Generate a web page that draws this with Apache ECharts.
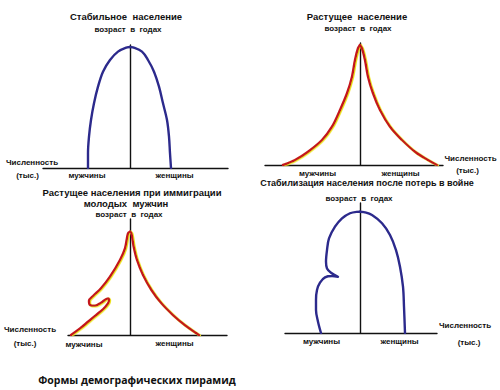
<!DOCTYPE html>
<html><head><meta charset="utf-8">
<script src="https://cdn.jsdelivr.net/npm/echarts@6/dist/echarts.min.js"></script>
<style>html,body{margin:0;padding:0;background:#fff}#c{width:500px;height:390px}</style>
</head><body><div id="c"></div>
<script>
// Panel 1: stable population (age 0..100, numbers in arbitrary thousands)
const stableAge   = [98.4, 98.1, 94.6, 87.8, 78.3, 66.1, 52.6, 39.0, 25.5, 12.0, 0];
const stableMen   = [0, -3, -12, -20, -27, -32, -36, -39, -41, -42, -42];
const stableWomen = [0, 3, 12, 18, 24, 29, 33, 37, 39, 40, 41];

// Panel 2: growing population
const growAge   = [98.4, 95.7, 86.1, 72.4, 58.8, 45.1, 31.4, 20.5, 10.9, 4.1, 0];
const growMen   = [0, -2, -5, -8, -13, -20, -28, -38, -52, -65, -77];
const growWomen = [0, 2, 5, 8, 13, 20, 30, 42, 55, 68, 77];

// Panel 3: growing population with immigration of young men
const immMenX     = [0, -2, -5, -10, -20, -29, -37, -41, -40, -35, -29, -22, -21, -22, -27, -34, -42, -50, -59];
const immMenAge   = [89, 87.6, 74.7, 64.7, 50.3, 40.3, 33.6, 29.6, 25.9, 25.3, 27.8, 31.6, 30.2, 27.3, 22.2, 17.2, 11.4, 5.7, 0];
const immWomenX   = [0, 1.4, 3.7, 7, 13, 21.4, 31.4, 43, 54.7, 66.4, 69];
const immWomenAge = [89, 87.7, 76.1, 64.7, 51.7, 38.8, 27.3, 17.2, 8.6, 1.5, 0];

// Panel 4: stabilisation after war losses
const warMenX     = [0, -3.5, -10, -18, -25, -31, -33, -34, -33, -29, -22, -28, -35, -40, -43, -44, -44, -42, -39];
const warMenAge   = [93.3, 93.2, 92.1, 88.2, 81.8, 72.8, 63.8, 54.8, 49.7, 46.4, 43.3, 43.8, 42.8, 38.7, 33.1, 25.4, 17.7, 8.7, 0];
const warWomenX   = [0, 4, 12, 22, 30, 36, 40, 43, 44, 45];
const warWomenAge = [93.3, 93.0, 90.8, 84.4, 75.4, 63.8, 51, 35.6, 20.2, 0];

// Texts
const panelTitles = ['Стабильное  население', 'Растущее  население', 'Растущее населения при иммиграции', 'Стабилизация населения после потерь в войне'];
const subTitle = 'молодых  мужчин';
const ageLabel = 'возраст  в  годах';
const countLabel = 'Численность';
const countUnit = '(тыс.)';
const menLabel = 'мужчины';
const womenLabel = 'женщины';
const mainTitle = 'Формы демографических пирамид';

const pairs = (xs, ys) => xs.map((v, i) => [v, ys[i]]);

const BLUE = '#2c2a8c', RED = '#c4161c', YEL = '#ece21c';
const grids = [
  {left: 43, right: 272, top: 45, bottom: 222},
  {left: 265, right: 57, top: 43, bottom: 225},
  {left: 68, right: 273, top: 219, bottom: 55},
  {left: 285, right: 63, top: 203, bottom: 57}
];
const xr = [[-87, 98], [-95, 83], [-62, 97], [-75, 77]];

const axLine = {show: true, onZero: true, lineStyle: {color: '#111', width: 1.4}};
const xAxis = xr.map((r, i) => ({type: 'value', gridIndex: i, min: r[0], max: r[1],
  axisLine: axLine, axisTick: {show: false}, axisLabel: {show: false}, splitLine: {show: false}}));
const yAxis = xr.map((r, i) => ({type: 'value', gridIndex: i, min: 0, max: 100,
  axisLine: axLine, axisTick: {show: false}, axisLabel: {show: false}, splitLine: {show: false}}));

function ser(i, data, color, shadow) {
  return {type: 'line', xAxisIndex: i, yAxisIndex: i, data: data, showSymbol: false, symbol: 'none',
    smooth: 0.35, z: 3,
    lineStyle: Object.assign({color: color, width: 2.4, cap: 'round', join: 'round'},
      shadow ? {shadowColor: shadow, shadowBlur: 0, shadowOffsetX: 1, shadowOffsetY: 0.6} : {})};
}
const series = [
  ser(0, pairs(stableMen, stableAge), BLUE),
  ser(0, pairs(stableWomen, stableAge), BLUE),
  ser(1, pairs(growMen, growAge), RED, YEL),
  ser(1, pairs(growWomen, growAge), RED, YEL),
  ser(2, pairs(immMenX, immMenAge), RED, YEL),
  ser(2, pairs(immWomenX, immWomenAge), RED, YEL),
  ser(3, pairs(warMenX, warMenAge), BLUE),
  ser(3, pairs(warWomenX, warWomenAge), BLUE)
];

const FT = 'bold 9.5px "Liberation Sans", Arial, sans-serif';
const FT2 = 'bold 9px "Liberation Sans", Arial, sans-serif';
const FS = 'bold 8px "Liberation Sans", Arial, sans-serif';
function txt(t, x, y, font) {
  return {type: 'text', x: x, y: y, silent: true,
    style: {text: t, font: font, fill: '#111', align: 'center', verticalAlign: 'middle'}};
}
const graphic = [
  txt(panelTitles[0], 126, 16, FT),
  txt(ageLabel, 128, 29, FS),
  txt(countLabel, 32, 162, FS), txt(countUnit, 27.5, 175, FS),
  txt(menLabel, 87, 175, FS), txt(womenLabel, 174.5, 175, FS),

  txt(panelTitles[1], 357, 16, FT),
  txt(ageLabel, 358, 28, FS),
  txt(countLabel, 470.5, 158, FS), txt(countUnit, 467.5, 170, FS),
  txt(menLabel, 317.5, 173, FS), txt(womenLabel, 400.5, 173, FS),

  txt(panelTitles[2], 132, 192, FT),
  txt(subTitle, 126, 203, FT),
  txt(ageLabel, 129, 214, FS),
  txt(countLabel, 30, 329, FS), txt(countUnit, 25, 343, FS),
  txt(menLabel, 84, 344, FS), txt(womenLabel, 174.5, 343, FS),

  txt(panelTitles[3], 367, 183, FT2),
  txt(ageLabel, 359, 198, FS),
  txt(countLabel, 465, 325, FS), txt(countUnit, 469, 342, FS),
  txt(menLabel, 321.5, 341, FS), txt(womenLabel, 399.5, 341, FS),

  txt(mainTitle, 137, 380, 'bold 10.5px "Open Sans", sans-serif')
];

const chart = echarts.init(document.getElementById('c'), null, {renderer: 'svg'});
chart.setOption({animation: false, backgroundColor: '#fff', grid: grids, xAxis: xAxis, yAxis: yAxis,
  series: series, graphic: graphic});
</script></body></html>
